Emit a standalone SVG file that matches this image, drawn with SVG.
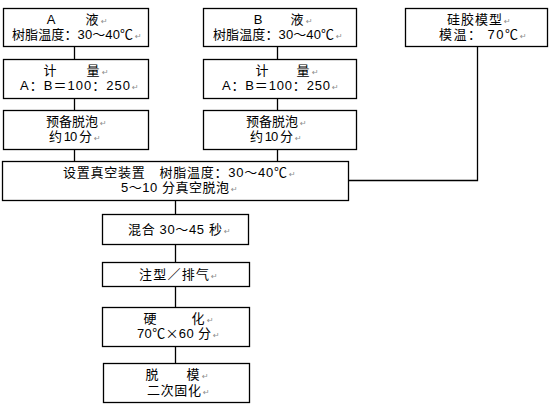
<svg xmlns="http://www.w3.org/2000/svg" width="552" height="408" viewBox="0 0 552 408">
<style>
.box{fill:#fff;stroke:#000;stroke-width:1.3}
.ln{fill:none;stroke:#000;stroke-width:1.3}
text{font-family:"Liberation Sans","Noto Sans CJK SC","Noto Sans CJK JP",sans-serif;font-size:13px;fill:#000}
.m{text-anchor:middle}
.cjk{font-family:"Noto Sans CJK SC","Noto Sans CJK JP",sans-serif}
.r{font-family:"DejaVu Sans",sans-serif;font-size:8px;fill:#8c8c8c}
</style>
<rect width="552" height="408" fill="#fff"/>
<g id="connectors">
<path class="ln" d="M74.5 46V59M74.5 98V110M74.5 149V161"/>
<path class="ln" d="M277.5 46V59M277.5 98V110M277.5 149V161"/>
<path class="ln" d="M477.5 46V180.5H348"/>
<path class="ln" d="M175.5 200V214M175.5 244V262M175.5 286V307M175.5 346V363"/>
</g>
<g id="nodeA">
<rect class="box" x="3.5" y="8.5" width="145" height="38"/>
<text class="m" x="51" y="24">A</text><text class="m" x="92" y="24">液</text><text class="r" x="101" y="24">↵</text>
<text x="12" y="39" textLength="121" lengthAdjust="spacing">树脂温度：30～40℃</text><text class="r" x="135" y="39">↵</text>
</g>
<g id="nodeB">
<rect class="box" x="203.5" y="8.5" width="153" height="38"/>
<text class="m" x="258" y="24">B</text><text class="m" x="297" y="24">液</text><text class="r" x="306" y="24">↵</text>
<text x="213" y="39" textLength="121" lengthAdjust="spacing">树脂温度：30～40℃</text><text class="r" x="336" y="39">↵</text>
</g>
<g id="nodeMold">
<rect class="box" x="405.5" y="8.5" width="142" height="38"/>
<text x="447" y="24" textLength="55" lengthAdjust="spacing">硅胶模型</text><text class="r" x="504" y="24">↵</text>
<text x="439" y="39" textLength="79" lengthAdjust="spacing">模温： 70℃</text><text class="r" x="520" y="39">↵</text>
</g>
<g id="nodeMeterA">
<rect class="box" x="3.5" y="59.5" width="145" height="39"/>
<text class="m" x="50" y="75">计</text><text class="m" x="93" y="75">量</text><text class="r" x="102" y="75">↵</text>
<text x="20" y="90" textLength="110" lengthAdjust="spacing">A：B＝100：250</text><text class="r" x="132" y="90">↵</text>
</g>
<g id="nodeMeterB">
<rect class="box" x="203.5" y="59.5" width="153" height="39"/>
<text class="m" x="262" y="75">计</text><text class="m" x="303" y="75">量</text><text class="r" x="312" y="75">↵</text>
<text x="222" y="90" textLength="108" lengthAdjust="spacing">A：B＝100：250</text><text class="r" x="332" y="90">↵</text>
</g>
<g id="nodePreA">
<rect class="box" x="3.5" y="110.5" width="145" height="39"/>
<text x="46" y="126" textLength="52" lengthAdjust="spacing">预备脱泡</text><text class="r" x="100" y="126">↵</text>
<text x="49" y="141" textLength="43" lengthAdjust="spacing">约 10 分</text><text class="r" x="94" y="141">↵</text>
</g>
<g id="nodePreB">
<rect class="box" x="203.5" y="110.5" width="153" height="39"/>
<text x="246" y="126" textLength="52" lengthAdjust="spacing">预备脱泡</text><text class="r" x="300" y="126">↵</text>
<text x="250" y="141" textLength="43" lengthAdjust="spacing">约 10 分</text><text class="r" x="295" y="141">↵</text>
</g>
<g id="nodeVacuum">
<rect class="box" x="2.5" y="161.5" width="346" height="39"/>
<text x="63" y="177" textLength="224" lengthAdjust="spacing">设置真空装置　树脂温度：30～40℃</text><text class="r" x="289" y="177">↵</text>
<text x="121" y="192" textLength="108" lengthAdjust="spacing">5～10 分真空脱泡</text><text class="r" x="231" y="192">↵</text>
</g>
<g id="nodeMix">
<rect class="box" x="102.5" y="214.5" width="146" height="30"/>
<text x="128" y="234" textLength="94" lengthAdjust="spacing">混合 30～45 秒</text><text class="r" x="224" y="234">↵</text>
</g>
<g id="nodeInject">
<rect class="box" x="102.5" y="262.5" width="147" height="24"/>
<text x="139" y="279" textLength="70" lengthAdjust="spacing">注型／排气</text><text class="r" x="211" y="279">↵</text>
</g>
<g id="nodeCure">
<rect class="box" x="102.5" y="307.5" width="147" height="39"/>
<text class="m" x="150" y="323">硬</text><text class="m" x="198" y="323">化</text><text class="r" x="207" y="323">↵</text>
<text x="137" y="338" textLength="74" lengthAdjust="spacing">70℃<tspan class="cjk">×</tspan>60 分</text><text class="r" x="213" y="338">↵</text>
</g>
<g id="nodeDemold">
<rect class="box" x="103.5" y="363.5" width="146" height="39"/>
<text class="m" x="152" y="379">脱</text><text class="m" x="193" y="379">模</text><text class="r" x="202" y="379">↵</text>
<text x="147" y="395" textLength="54" lengthAdjust="spacing">二次固化</text><text class="r" x="203" y="395">↵</text>
</g>
</svg>
